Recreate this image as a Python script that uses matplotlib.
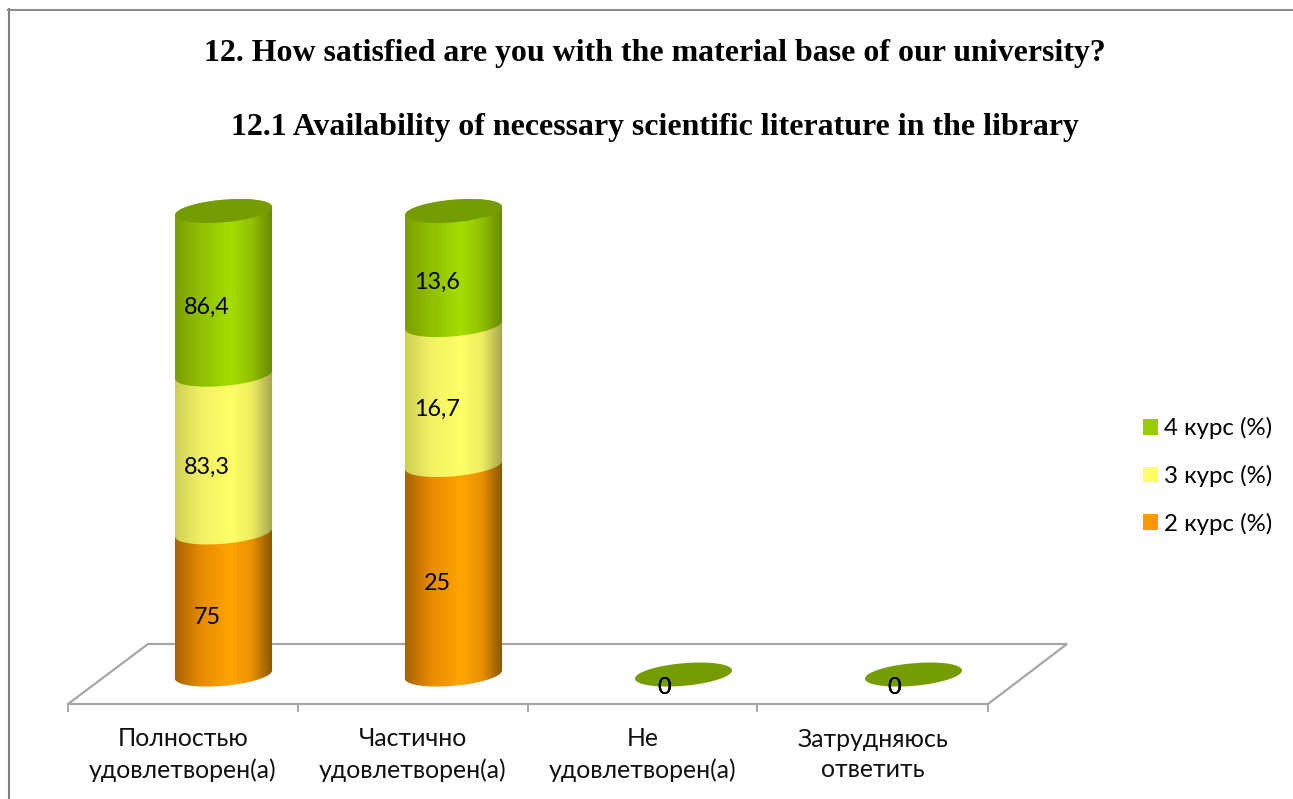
import numpy as np
import matplotlib
matplotlib.use("Agg")
import matplotlib.pyplot as plt
from matplotlib.colors import LinearSegmentedColormap
from matplotlib.patches import Patch, PathPatch, Polygon
from matplotlib.path import Path

categories = ["Полностью\nудовлетворен(а)", "Частично\nудовлетворен(а)",
              "Не\nудовлетворен(а)", "Затрудняюсь\nответить"]
course_2 = [75, 25, 0, 0]
course_3 = [83.3, 16.7, 0, 0]
course_4 = [86.4, 13.6, 0, 0]
series_names = ["2 курс (%)", "3 курс (%)", "4 курс (%)"]
series_colors = ["#ff9900", "#ffff66", "#99cc00"]
gradients = [["#a86200", "#e58a00", "#ffa500", "#e89000", "#8c5800"],
             ["#cfcf55", "#f0f065", "#ffff66", "#eded60", "#a8a850"],
             ["#7c9f00", "#8fbe00", "#a4de00", "#90bf00", "#6a8a00"]]
top_color = "#759c00"

W, H = 1293, 799
label_font = "Lato"


def fx(px):
    return px / W


def fy(py):
    return 1 - py / H


fig = plt.figure(figsize=(W / 100, H / 100), dpi=100)

# background furniture in pixel coordinates
bg = fig.add_axes([0, 0, 1, 1])
bg.set_xlim(0, W)
bg.set_ylim(H, 0)
bg.axis("off")
bg.plot([9, 9], [H, 9], color="#808080", lw=1.5)
bg.plot([8, W], [10, 10], color="#8c8c8c", lw=1.5)
bg.add_patch(Polygon([[68, 704], [148, 644], [1067, 644], [988, 704]], closed=True,
                     fc="white", ec="#a6a6a6", lw=1.6))
for x in [68, 298, 528, 757, 988]:
    bg.plot([x, x], [704, 711], color="#a6a6a6", lw=1.4)

fig.text(fx(654.5), fy(54), "12. How satisfied are you with the material base of our university?",
         family="Liberation Serif", weight="bold", fontsize=22.95, ha="center", va="center")
fig.text(fx(654.5), fy(127), "12.1 Availability of necessary scientific literature in the library",
         family="Liberation Serif", weight="bold", fontsize=22.95, ha="center", va="center")

# bars axes: x = category index, y = share of the category total in %
# y runs a little past 0..100 so the curved ends are not cut by the axes box
ax = fig.add_axes([fx(108.5), fy(697.7), 920 / W, 509.85 / H])
ax.patch.set_alpha(0)
ax.axis("off")

half_w = 48.5 / 230    # in category units
half_h = 11.3 * 100 / 463.5
tilt = 4.1 * 100 / 463.5
t = np.linspace(0, 2 * np.pi, 121)


def ellipse_y(y, angle):
    return y + half_h * np.sin(angle) + tilt * np.cos(angle)


values = np.array([course_2, course_3, course_4], dtype=float)
totals = values.sum(axis=0)
for i in range(len(categories)):
    base = 0.0
    for s in range(3):
        if totals[i] == 0 or values[s, i] == 0:
            continue
        share = values[s, i] / totals[i] * 100
        # lower arc, then upper arc of the top ellipse
        low = np.linspace(np.pi, 2 * np.pi, 61)
        up = np.linspace(0, np.pi, 61)
        xs = np.r_[i + half_w * np.cos(low), i + half_w * np.cos(up)]
        ys = np.r_[ellipse_y(base, low), ellipse_y(base + share, up)]
        clip = PathPatch(Path(np.c_[xs, ys]), transform=ax.transData, fc="none", ec="none")
        ax.add_patch(clip)
        cmap = LinearSegmentedColormap.from_list(
            "cyl", list(zip([0, 0.25, 0.58, 0.8, 1], gradients[s])))
        im = ax.imshow(np.linspace(0, 1, 128).reshape(1, -1), cmap=cmap, aspect="auto",
                       extent=[i - half_w, i + half_w, base - 10, base + share + 10],
                       zorder=2 + s)
        im.set_clip_path(clip)
        base += share
    # cap of the stack, a flat ellipse when the category is empty
    ax.fill(i + half_w * np.cos(t), ellipse_y(base, t), color=top_color, lw=0, zorder=6)

ax.set_xlim(-0.5, 3.5)
ax.set_ylim(-5, 105)

for i in range(len(categories)):
    base = 0.0
    for s in range(3):
        share = values[s, i] / totals[i] * 100 if totals[i] else 0
        text = f"{values[s, i]:g}".replace(".", ",")
        dx, dy = (-16.5, -14) if share else (-19, -13)
        ax.annotate(text, (i, base + share / 2), xytext=(dx, dy), textcoords="offset pixels",
                    ha="center", va="center", fontsize=16.8, family=label_font, zorder=8,
                    annotation_clip=False)
        base += share

for i, name in enumerate(categories):
    fig.text(fx(183 + 229.9 * i), fy(754.5), name, ha="center", va="center", fontsize=17.9,
             family=label_font, color="#111111", linespacing=1.39)

handles = [Patch(fc=series_colors[s], label=series_names[s]) for s in [2, 1, 0]]
fig.legend(handles=handles, loc="center left", bbox_to_anchor=(fx(1143), fy(476)), frameon=False,
           prop={"family": label_font, "size": 17.3}, handlelength=0.625, handleheight=0.625,
           handletextpad=0.25, labelspacing=1.06, borderpad=0, borderaxespad=0)

fig.savefig("out.png", dpi=100)
